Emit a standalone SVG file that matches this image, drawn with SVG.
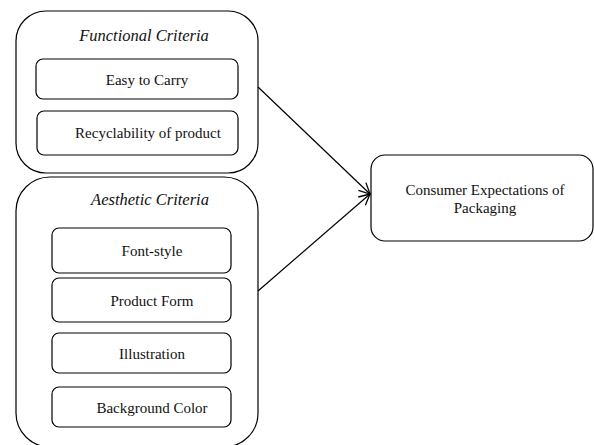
<svg xmlns="http://www.w3.org/2000/svg" width="594" height="445" viewBox="0 0 594 445">
  <style>
    .box { fill: #fff; stroke: #000; stroke-width: 1.2; }
    .lbl { font-family: "Liberation Serif", "Times New Roman", serif; font-size: 15px; fill: #111; text-anchor: middle; }
    .ttl { font-style: italic; font-size: 16.5px; }
    .conn { stroke: #000; stroke-width: 1.2; fill: none; }
  </style>
  <defs>
    <marker id="arrow" viewBox="0 0 12 12" refX="11" refY="6" markerWidth="13" markerHeight="13" markerUnits="userSpaceOnUse" orient="auto">
      <path d="M1,1 L11,6 L1,11" fill="none" stroke="#000" stroke-width="1.2"/>
    </marker>
  </defs>

  <g id="functional">
    <rect class="box" x="16" y="11" width="242" height="162" rx="30" ry="30"/>
    <text class="lbl ttl" x="144" y="41">Functional Criteria</text>
  </g>
  <g id="easy-to-carry">
    <rect class="box" x="36" y="59" width="202" height="40" rx="7" ry="7"/>
    <text class="lbl" x="147" y="85">Easy to Carry</text>
  </g>
  <g id="recyclability">
    <rect class="box" x="37" y="111" width="201" height="44" rx="7" ry="7"/>
    <text class="lbl" x="148" y="138">Recyclability of product</text>
  </g>

  <g id="aesthetic">
    <rect class="box" x="16" y="177" width="242" height="270" rx="34" ry="34"/>
    <text class="lbl ttl" x="150" y="205">Aesthetic Criteria</text>
  </g>
  <g id="font-style">
    <rect class="box" x="52" y="228" width="179" height="45" rx="7" ry="7"/>
    <text class="lbl" x="152" y="256">Font-style</text>
  </g>
  <g id="product-form">
    <rect class="box" x="52" y="278" width="179" height="44" rx="7" ry="7"/>
    <text class="lbl" x="152" y="306">Product Form</text>
  </g>
  <g id="illustration">
    <rect class="box" x="52" y="333" width="179" height="40" rx="7" ry="7"/>
    <text class="lbl" x="152" y="359">Illustration</text>
  </g>
  <g id="background-color">
    <rect class="box" x="52" y="387" width="179" height="40" rx="7" ry="7"/>
    <text class="lbl" x="152" y="413">Background Color</text>
  </g>

  <g id="consumer-expectations">
    <rect class="box" x="371" y="155" width="222" height="86" rx="14" ry="14"/>
    <text class="lbl" x="485" y="195">Consumer Expectations of</text>
    <text class="lbl" x="485" y="213">Packaging</text>
  </g>

  <g id="connectors">
    <line class="conn" x1="258" y1="87" x2="370" y2="194" marker-end="url(#arrow)"/>
    <line class="conn" x1="258" y1="291" x2="370" y2="194" marker-end="url(#arrow)"/>
  </g>
</svg>
